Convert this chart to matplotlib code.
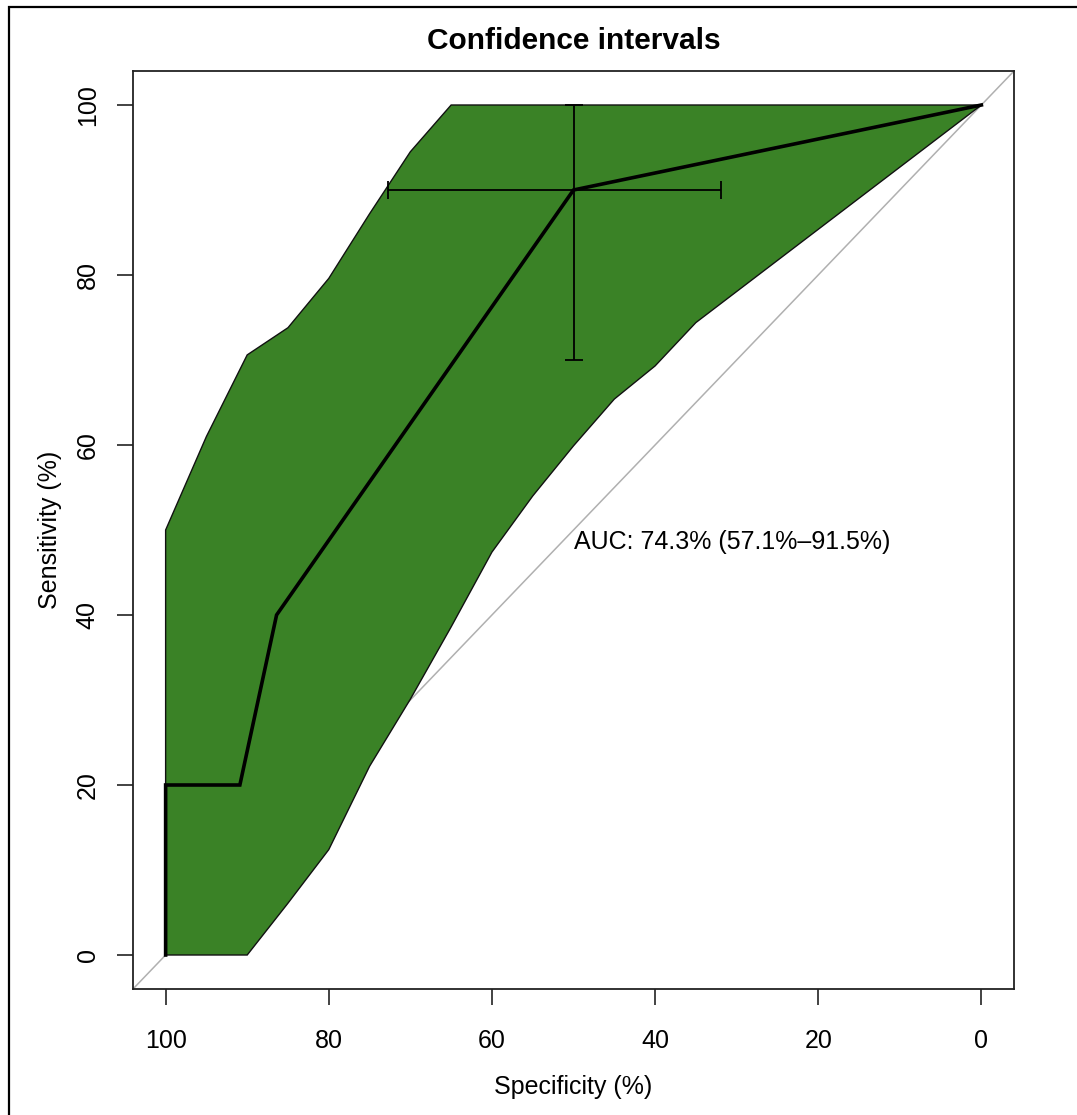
import matplotlib
matplotlib.use("Agg")
import matplotlib.pyplot as plt
from matplotlib.patches import Rectangle

plt.rcParams['font.family'] = ['Liberation Sans', 'DejaVu Sans']

# ROC curve (specificity %, sensitivity %)
roc_spec = [100, 100, 90.9, 86.4, 50, 0]
roc_sens = [0, 20, 20, 40, 90, 100]

# Confidence band for sensitivity
upper_spec = [100, 95, 90, 85, 80, 75, 70, 65, 0]
upper_sens = [50, 61, 70.6, 73.8, 79.6, 87.2, 94.5, 100, 100]
lower_spec = [100, 90, 85, 80, 75, 70, 65, 60, 55, 50, 45, 40, 35, 0]
lower_sens = [0, 0, 6.1, 12.4, 22.2, 30.1, 38.6, 47.4, 54, 59.9, 65.4, 69.3, 74.4, 100]

# Threshold point with CIs
pt_spec = 50
pt_sens = 90
spec_ci = [72.8, 31.9]
sens_ci = [70, 100]

auc_text = "AUC: 74.3% (57.1%\u201391.5%)"
xticks = [100, 80, 60, 40, 20, 0]
yticks = [0, 20, 40, 60, 80, 100]

W, H = 1077, 1115
fig = plt.figure(figsize=(W / 100, H / 100), dpi=100)
ax = fig.add_axes([133 / W, 1 - 989 / H, (1014 - 133) / W, (989 - 71) / H])

# outer frame
fig.patches.append(Rectangle((9 / W, -0.1), 1.2, 1.1 - 7 / H, transform=fig.transFigure,
                             fill=False, edgecolor='black', linewidth=1.6, zorder=0))

ax.set_xlim(104, -4)
ax.set_ylim(-4, 104)

# diagonal
ax.plot([104, -4], [-4, 104], color='#b0b0b0', linewidth=1.1, zorder=1)

# band
poly_x = list(upper_spec) + list(reversed(lower_spec))
poly_y = list(upper_sens) + list(reversed(lower_sens))
ax.fill(poly_x, poly_y, facecolor='#3a8226', edgecolor='#111111', linewidth=1.0, zorder=2)

# ROC line
ax.plot(roc_spec, roc_sens, color='black', linewidth=2.6, zorder=4, solid_joinstyle='miter')

# error bars (x - err_low, x + err_high in data units)
ax.errorbar([pt_spec], [pt_sens],
            xerr=[[pt_spec - spec_ci[1]], [spec_ci[0] - pt_spec]],
            yerr=[[pt_sens - sens_ci[0]], [sens_ci[1] - pt_sens]],
            fmt='none', ecolor='black', elinewidth=1.3, capsize=6.3, capthick=1.3, zorder=3)

ax.text(pt_spec, 47.8, auc_text, ha='left', va='baseline', fontsize=18, zorder=5)

ax.set_xticks(xticks)
ax.set_xticklabels([str(t) for t in xticks])
ax.set_yticks(yticks)
ax.set_yticklabels([str(t) for t in yticks], rotation=90, va='center')
ax.tick_params(axis='both', length=11.5, width=1.2, labelsize=18, color='#222222')
ax.tick_params(axis='x', pad=17)
ax.tick_params(axis='y', pad=12.5)
for s in ax.spines.values():
    s.set_linewidth(1.3)
    s.set_color('#222222')

ax.set_xlabel("Specificity (%)", fontsize=18, labelpad=16)
ax.set_ylabel("Sensitivity (%)", fontsize=18, labelpad=10)
ax.set_title("Confidence intervals", fontsize=21.5, fontweight='bold', pad=15.5)

fig.savefig("out.png", dpi=100)
